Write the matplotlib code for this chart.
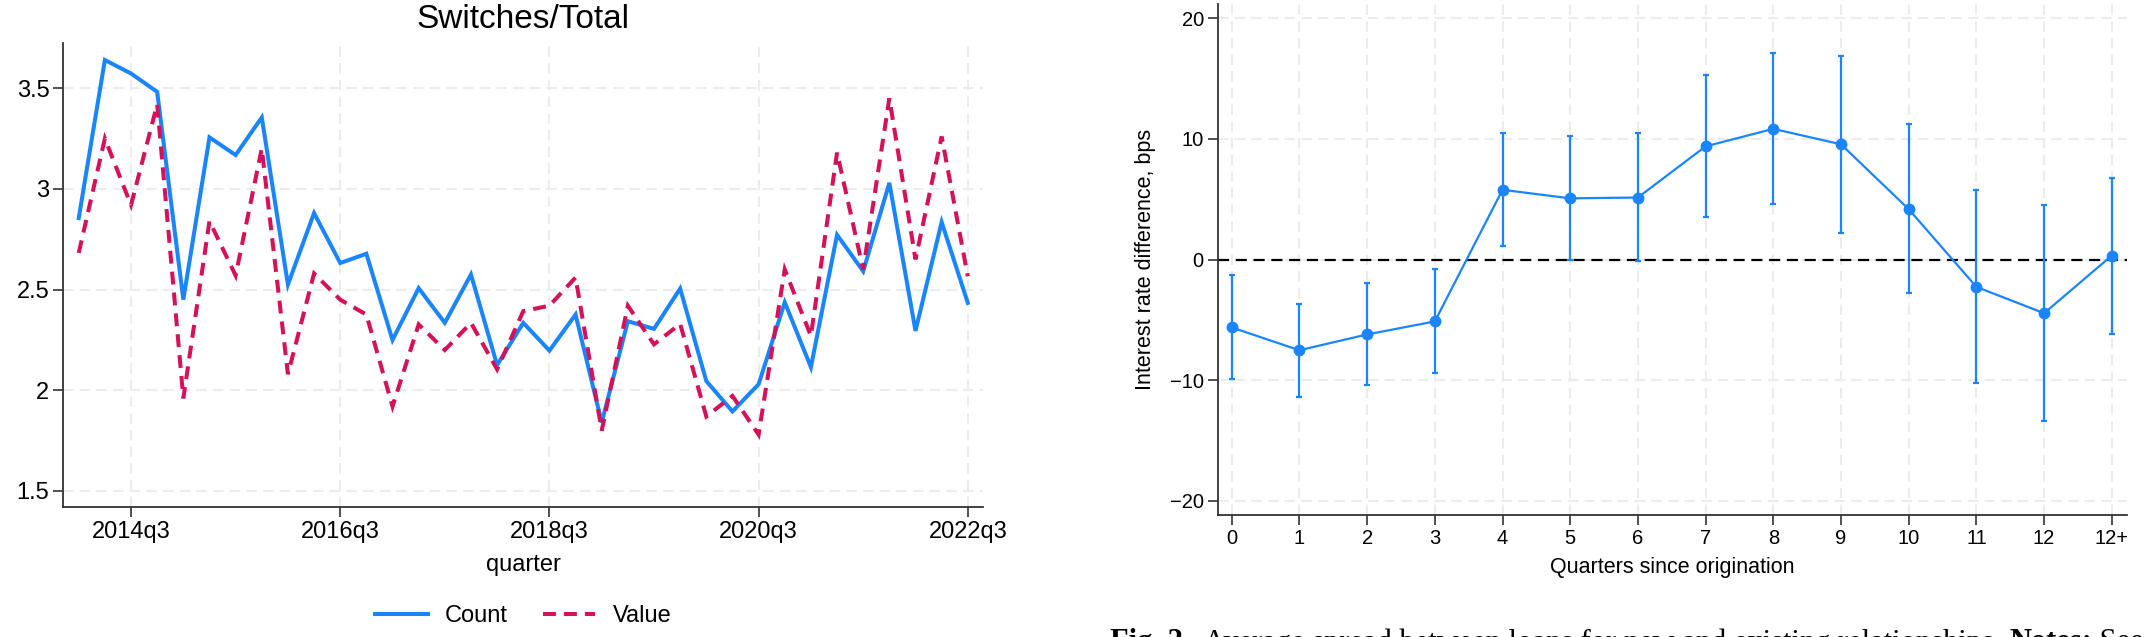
import matplotlib
matplotlib.use('Agg')
import matplotlib.pyplot as plt
import numpy as np
import pandas as pd

plt.rcParams['font.family'] = ['Liberation Sans', 'DejaVu Sans']

# left panel: switches / total by quarter
quarters = pd.period_range('2014Q1', '2022Q3', freq='Q')
quarter_labels = [f'{p.year}q{p.quarter}' for p in quarters]
count_share = [2.855, 3.640, 3.573, 3.482, 2.450, 3.256, 3.168, 3.355, 2.525, 2.880,
               2.632, 2.678, 2.250, 2.507, 2.335, 2.575, 2.125, 2.335, 2.197, 2.376,
               1.840, 2.343, 2.305, 2.505, 2.046, 1.895, 2.030, 2.437, 2.115, 2.772,
               2.591, 3.030, 2.295, 2.835, 2.434]
value_share = [2.682, 3.250, 2.920, 3.420, 1.960, 2.840, 2.570, 3.200, 2.080, 2.580,
               2.450, 2.376, 1.920, 2.327, 2.200, 2.335, 2.104, 2.393, 2.420, 2.560,
               1.800, 2.420, 2.228, 2.330, 1.870, 1.972, 1.780, 2.600, 2.270, 3.180,
               2.600, 3.450, 2.650, 3.260, 2.566]
tick_quarters = ['2014q3', '2016q3', '2018q3', '2020q3', '2022q3']
left_yticks = [1.5, 2, 2.5, 3, 3.5]

# right panel: spread by quarters since origination
horizons = ['0', '1', '2', '3', '4', '5', '6', '7', '8', '9', '10', '11', '12', '12+']
spread_coef = [-5.62, -7.51, -6.20, -5.12, 5.79, 5.08, 5.15, 9.39, 10.84, 9.56, 4.18, -2.26, -4.44, 0.34]
spread_hi = [-1.31, -3.64, -1.95, -0.81, 10.47, 10.24, 10.47, 15.29, 17.10, 16.90, 11.25, 5.76, 4.55, 6.80]
spread_lo = [-9.90, -11.35, -10.40, -9.36, 1.14, 0.00, -0.10, 3.50, 4.58, 2.22, -2.79, -10.20, -13.40, -6.16]
right_yticks = [-20, -10, 0, 10, 20]

caption_parts = [('Fig. 2.', 'bold'),
                 ('  Average spread between loans for new and existing relationships. ', 'normal'),
                 ('Notes:', 'bold'),
                 (' See', 'normal')]

blue = '#1a85ff'
red = '#d41159'
axis_col = '#333333'
grid_col = '#ececec'

W, H = 2147, 637
fig = plt.figure(figsize=(W / 100, H / 100), dpi=100)


def style_axes(ax, labelsize):
    for s in ['top', 'right']:
        ax.spines[s].set_visible(False)
    for s in ['left', 'bottom']:
        ax.spines[s].set_color(axis_col)
        ax.spines[s].set_linewidth(1.3)
    ax.tick_params(direction='out', length=7, width=1.2, color=axis_col,
                   labelsize=labelsize, pad=3)
    ax.grid(True, color=grid_col, ls=(0, (5, 3)), lw=1.5)
    ax.set_axisbelow(True)


# ---- left chart
ax1 = fig.add_axes([63.3 / W, 1 - 506.7 / H, 919.4 / W, 464 / H])
x = np.arange(len(quarter_labels))
ax1.plot(x, count_share, color=blue, lw=2.9, label='Count',
         solid_joinstyle='miter')
ax1.plot(x, value_share, color=red, lw=2.9, ls=(0, (3.2, 2.0)), label='Value',
         dash_joinstyle='miter')
ax1.set_xlim(-0.59, 34.57)
ax1.set_ylim(1.422, 3.726)
ax1.set_xticks([quarter_labels.index(q) for q in tick_quarters])
ax1.set_xticklabels(tick_quarters)
ax1.set_yticks(left_yticks)
ax1.set_yticklabels([f'{v:g}' for v in left_yticks])
style_axes(ax1, 17)

fig.text(523 / W, 1 - 28 / H, 'Switches/Total', ha='center', va='baseline', fontsize=24)
fig.text(523 / W, 1 - 571 / H, 'quarter', ha='center', va='baseline', fontsize=17)
ax1.legend(loc='center', bbox_to_anchor=(523 / W, 1 - 616 / H),
           bbox_transform=fig.transFigure, ncol=2, frameon=False, fontsize=17,
           handlelength=2.24, handletextpad=0.72, columnspacing=1.48)

# ---- right chart
ax2 = fig.add_axes([1217.7 / W, 1 - 514.7 / H, 909 / W, 510.6 / H])
xr = np.arange(len(horizons))
coef = np.array(spread_coef)
err = [coef - np.array(spread_lo), np.array(spread_hi) - coef]
ax2.axhline(0, color='black', lw=1.6, ls=(0, (5, 3)), zorder=1.5)
ax2.errorbar(xr, coef, yerr=err, fmt='-o', color=blue, lw=1.6, ms=7.5,
             capsize=2.5, elinewidth=1.6, capthick=1.6, zorder=3)
ax2.set_xlim(-0.207, 13.22)
ax2.set_ylim(-21.14, 21.18)
ax2.set_xticks(xr)
ax2.set_xticklabels(horizons)
ax2.set_yticks(right_yticks)
style_axes(ax2, 14.5)

fig.text(1145 / W, 1 - 259.4 / H, 'Interest rate difference, bps', rotation=90,
         ha='center', va='center', fontsize=15.5)
fig.text(1672 / W, 1 - 573 / H, 'Quarters since origination', ha='center',
         va='baseline', fontsize=15.5)

# caption, cut off at the bottom edge like the source
renderer = fig.canvas.get_renderer()
xc = 1110
for txt, weight in caption_parts:
    t = fig.text(xc / W, 1 - 628 / H, txt, ha='left', va='top', fontsize=22,
                 family=['Liberation Serif', 'DejaVu Serif'], weight=weight)
    bb = t.get_window_extent(renderer)
    xc = bb.x1

fig.savefig('out.png', dpi=100)
